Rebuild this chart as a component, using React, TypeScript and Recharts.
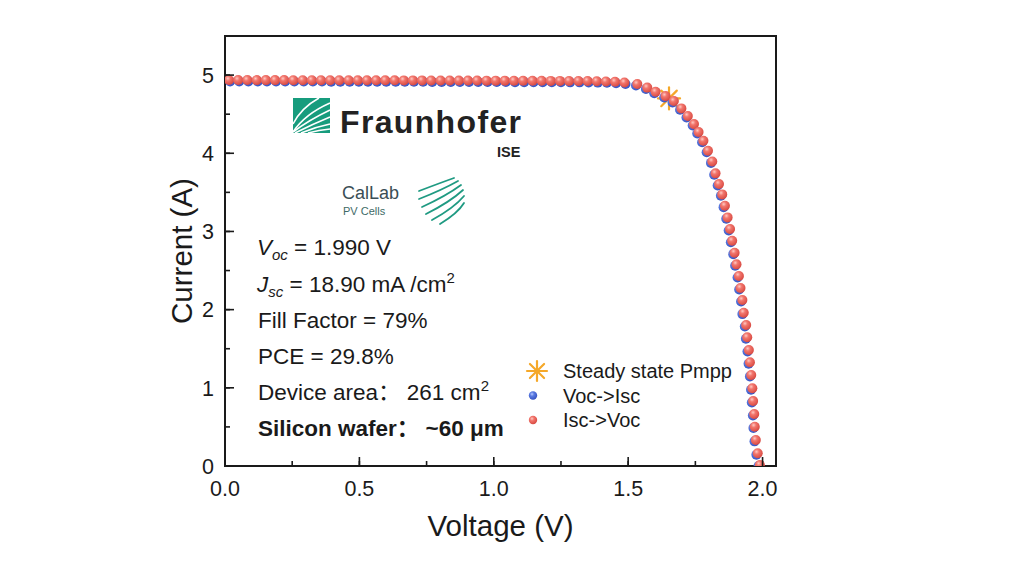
import React from 'react';
import { ScatterChart, Scatter, XAxis, YAxis, ReferenceArea, Legend } from 'recharts';

// ---- data ----
const iscToVocVoltage = [
  0.015, 0.049, 0.083, 0.118, 0.152, 0.186, 0.220, 0.254, 0.289, 0.323,
  0.357, 0.391, 0.425, 0.460, 0.494, 0.528, 0.562, 0.596, 0.631, 0.665,
  0.699, 0.733, 0.767, 0.802, 0.836, 0.870, 0.904, 0.938, 0.973, 1.007,
  1.041, 1.075, 1.109, 1.144, 1.178, 1.212, 1.246, 1.280, 1.315, 1.349,
  1.383, 1.417, 1.451, 1.486,
  1.534, 1.571, 1.602, 1.639, 1.670, 1.698, 1.722, 1.745, 1.762, 1.780,
  1.797, 1.813, 1.825, 1.838, 1.850, 1.860, 1.870, 1.879, 1.887, 1.896,
  1.903, 1.912, 1.918, 1.925, 1.930, 1.939, 1.943, 1.949, 1.953, 1.958,
  1.962, 1.965, 1.969, 1.971, 1.975, 1.982, 1.990,
];
const iscToVocCurrent = [
  4.937, 4.937, 4.937, 4.936, 4.936, 4.936, 4.936, 4.935, 4.935, 4.935,
  4.935, 4.934, 4.934, 4.934, 4.934, 4.933, 4.933, 4.933, 4.933, 4.932,
  4.932, 4.932, 4.931, 4.931, 4.931, 4.930, 4.930, 4.930, 4.929, 4.929,
  4.929, 4.928, 4.928, 4.927, 4.927, 4.926, 4.926, 4.925, 4.925, 4.924,
  4.922, 4.919, 4.914, 4.905,
  4.885, 4.840, 4.786, 4.731, 4.668, 4.574, 4.476, 4.373, 4.271, 4.160,
  4.032, 3.895, 3.743, 3.606, 3.474, 3.329, 3.180, 3.031, 2.881, 2.728,
  2.579, 2.430, 2.276, 2.123, 1.961, 1.803, 1.646, 1.483, 1.326, 1.164,
  0.994, 0.831, 0.665, 0.503, 0.333, 0.162, 0.013,
];
const vocToIscVoltage = [
  0.019, 0.053, 0.087, 0.122, 0.156, 0.190, 0.224, 0.258, 0.293, 0.327,
  0.361, 0.395, 0.429, 0.464, 0.498, 0.532, 0.566, 0.600, 0.635, 0.669,
  0.703, 0.737, 0.771, 0.806, 0.840, 0.874, 0.908, 0.942, 0.977, 1.011,
  1.045, 1.079, 1.113, 1.148, 1.182, 1.216, 1.250, 1.284, 1.319, 1.353,
  1.387, 1.421, 1.455, 1.490,
  1.529, 1.566, 1.597, 1.634, 1.665, 1.693, 1.717, 1.740, 1.757, 1.775,
  1.792, 1.808, 1.820, 1.833, 1.845, 1.855, 1.865, 1.874, 1.882, 1.891,
  1.898, 1.907, 1.913, 1.920, 1.925, 1.934, 1.938, 1.944, 1.948, 1.953,
  1.957, 1.960, 1.964, 1.966, 1.970, 1.977, 1.985,
];
const vocToIscCurrent = [
  4.919, 4.919, 4.919, 4.918, 4.918, 4.918, 4.918, 4.917, 4.917, 4.917,
  4.917, 4.916, 4.916, 4.916, 4.916, 4.915, 4.915, 4.915, 4.915, 4.914,
  4.914, 4.914, 4.913, 4.913, 4.913, 4.912, 4.912, 4.912, 4.911, 4.911,
  4.911, 4.910, 4.910, 4.909, 4.909, 4.908, 4.908, 4.907, 4.907, 4.906,
  4.904, 4.901, 4.896, 4.887,
  4.867, 4.822, 4.768, 4.713, 4.650, 4.556, 4.458, 4.355, 4.253, 4.142,
  4.014, 3.877, 3.725, 3.588, 3.456, 3.311, 3.162, 3.013, 2.863, 2.710,
  2.561, 2.412, 2.258, 2.105, 1.943, 1.785, 1.628, 1.465, 1.308, 1.146,
  0.976, 0.813, 0.647, 0.485, 0.315, 0.144, 0.000,
];
const pmppVoltage = [1.652];
const pmppCurrent = [4.702];

const seriesNames = ['Steady state Pmpp', 'Voc->Isc', 'Isc->Voc'];
const xTicks = [0, 0.25, 0.5, 0.75, 1.0, 1.25, 1.5, 1.75, 2.0];
const xTickLabels = ['0.0', '', '0.5', '', '1.0', '', '1.5', '', '2.0'];
const yTicks = [0, 0.5, 1, 1.5, 2, 2.5, 3, 3.5, 4, 4.5, 5];
const yTickLabels = ['0', '', '1', '', '2', '', '3', '', '4', '', '5'];
const xDomain = [0, 2.05];
const yDomain = [0, 5.5];

const redData = iscToVocVoltage.map((v, k) => ({ v, i: iscToVocCurrent[k] }));
const blueData = vocToIscVoltage.map((v, k) => ({ v, i: vocToIscCurrent[k] }));
const pmppData = pmppVoltage.map((v, k) => ({ v, i: pmppCurrent[k] }));

const FONT = "'Liberation Sans', Arial, sans-serif";
const CJK = "'Noto Sans CJK SC', 'Liberation Sans', sans-serif";
const INK = '#1a1a1a';
const STAR = '#f5a829';

const makeBall = (grad: string, r: number) => (props: any) => {
  const { cx, cy } = props;
  if (cx == null || cy == null) return null;
  return <circle cx={cx} cy={cy} r={r} fill={`url(#${grad})`} />;
};
const RedBall = makeBall('gRed', 5);
const BlueBall = makeBall('gBlue', 5);

const starLines = (cx: number, cy: number, s: number) => {
  const d = s * 0.7071;
  return (
    <g stroke={STAR} strokeWidth={2.2} strokeLinecap="round">
      <line x1={cx - s} y1={cy} x2={cx + s} y2={cy} />
      <line x1={cx} y1={cy - s} x2={cx} y2={cy + s} />
      <line x1={cx - d} y1={cy - d} x2={cx + d} y2={cy + d} />
      <line x1={cx - d} y1={cy + d} x2={cx + d} y2={cy - d} />
    </g>
  );
};
const StarShape = (props: any) => {
  const { cx, cy } = props;
  if (cx == null || cy == null) return null;
  return starLines(cx, cy, 11);
};

const XTick = (props: any) => {
  const { x, y, index } = props;
  const base = y - 15;
  const major = index % 2 === 0;
  return (
    <g>
      {major ? <line x1={x} y1={base} x2={x} y2={base - 9} stroke={INK} strokeWidth={1.6} /> : null}
      <text x={x} y={y} dy="0.71em" textAnchor="middle" fontSize={21.5} fontFamily={FONT} fill={INK}>
        {xTickLabels[index]}
      </text>
    </g>
  );
};
const YTick = (props: any) => {
  const { x, y, index } = props;
  const base = x + 11;
  const major = index % 2 === 0;
  return (
    <g>
      {major ? <line x1={base} y1={y} x2={base + 9} y2={y} stroke={INK} strokeWidth={1.6} /> : null}
      <text x={x} y={y} dy="0.36em" textAnchor="end" fontSize={21.5} fontFamily={FONT} fill={INK}>
        {yTickLabels[index]}
      </text>
    </g>
  );
};

const LegendContent = (props: any) => {
  const payload = [...(props.payload || [])].sort(
    (a: any, b: any) => seriesNames.indexOf(a.value) - seriesNames.indexOf(b.value)
  );
  return (
    <svg width={240} height={82}>
      {payload.map((entry: any, k: number) => {
        const cy = 16 + k * 24.5;
        const which = seriesNames.indexOf(entry.value);
        let icon;
        if (which === 0) icon = starLines(17, cy, 10);
        else icon = <circle cx={13} cy={cy} r={4.2} fill={which === 1 ? 'url(#gBlue)' : 'url(#gRed)'} />;
        return (
          <g key={k}>
            {icon}
            <text x={43} y={cy} dy="0.36em" fontSize={20} fontFamily={FONT} fill={INK}>
              {entry.value}
            </text>
          </g>
        );
      })}
    </svg>
  );
};

const XLabel = (props: any) => {
  const vb = props.viewBox || {};
  return (
    <text x={vb.x + vb.width / 2} y={vb.y + 70} textAnchor="middle" fontSize={29.5} fontFamily={FONT} fill={INK}>
      Voltage (V)
    </text>
  );
};
const YLabel = (props: any) => {
  const vb = props.viewBox || {};
  const cx = 181;
  const cy = vb.y + vb.height / 2;
  return (
    <text x={cx} y={cy} dy="0.36em" textAnchor="middle" fontSize={29.5} fontFamily={FONT} fill={INK}
      transform={`rotate(-90 ${cx} ${cy})`}>
      Current (A)
    </text>
  );
};

const Overlay = () => {
  const tx = 258;
  const fs = 22.5;
  const sub = 15;
  return (
    <svg width={1024} height={576} style={{ position: 'absolute', left: 0, top: 0, pointerEvents: 'none' }}>
      {/* Fraunhofer logo */}
      <g transform="translate(293,98)">
        <rect x={0} y={0} width={37} height={35} fill="#179c7d" />
        <g stroke="#ffffff" strokeWidth={1.6} fill="none">
          <path d="M0,34 Q12,16 37,5" />
          <path d="M0,34 Q16,22 37,12" />
          <path d="M2,35 Q20,26 37,19" />
          <path d="M8,35 Q22,29 37,26" />
          <path d="M15,35 Q26,32 37,31" />
          <path d="M0,26 Q8,10 26,0" />
        </g>
      </g>
      <text x={340} y={133} fontSize={32} fontWeight={700} fontFamily={FONT} fill="#222" textLength={181}>
        Fraunhofer
      </text>
      <text x={497} y={157} fontSize={14.5} fontWeight={700} fontFamily={FONT} fill="#222">
        ISE
      </text>
      {/* CalLab logo */}
      <text x={342} y={199} fontSize={18} fontFamily={FONT} fill="#3a4e55">
        CalLab
      </text>
      <text x={343} y={215} fontSize={11} fontFamily={FONT} fill="#3e6a66">
        PV Cells
      </text>
      <g stroke="#1f9a82" strokeWidth={1.8} fill="none" strokeLinecap="round">
        <path d="M419,191 Q440,183 454,178" />
        <path d="M419,199 Q442,190 458,181" />
        <path d="M422,207 Q446,196 461,185" />
        <path d="M426,214 Q450,202 463,190" />
        <path d="M432,220 Q454,208 464,196" />
        <path d="M440,224 Q458,213 464,203" />
      </g>
      {/* annotations */}
      <g fontFamily={FONT} fontSize={fs} fill={INK}>
        <text x={tx - 1} y={255}>
          <tspan fontStyle="italic">V</tspan>
          <tspan fontStyle="italic" fontSize={sub} dy={5}>oc</tspan>
          <tspan dy={-5}> = 1.990 V</tspan>
        </text>
        <text x={tx - 1} y={291.5}>
          <tspan fontStyle="italic">J</tspan>
          <tspan fontStyle="italic" fontSize={sub} dy={5}>sc</tspan>
          <tspan dy={-5}> = 18.90 mA /cm</tspan>
          <tspan fontSize={sub} dy={-9}>2</tspan>
        </text>
        <text x={tx} y={327.5}>Fill Factor = 79%</text>
        <text x={tx} y={363.5}>PCE = 29.8%</text>
        <text x={tx} y={399.5}>
          <tspan>Device area</tspan>
          <tspan fontFamily={CJK}>：</tspan>
          <tspan> 261 cm</tspan>
          <tspan fontSize={sub} dy={-9}>2</tspan>
        </text>
        <text x={tx} y={435.5} fontWeight={700}>
          <tspan>Silicon wafer</tspan>
          <tspan fontFamily={CJK}>：</tspan>
          <tspan> ~60 μm</tspan>
        </text>
      </g>
    </svg>
  );
};

export default function App() {
  return (
    <div style={{ position: 'absolute', left: 0, top: 0, width: 1024, height: 576, background: '#fff' }}>
      <svg width={0} height={0} style={{ position: 'absolute' }}>
        <defs>
          <radialGradient id="gRed" cx="0.38" cy="0.34" r="0.7">
            <stop offset="0" stopColor="#ffc9c2" />
            <stop offset="0.35" stopColor="#f2766d" />
            <stop offset="1" stopColor="#d6463e" />
          </radialGradient>
          <radialGradient id="gBlue" cx="0.38" cy="0.34" r="0.7">
            <stop offset="0" stopColor="#b8c8ff" />
            <stop offset="0.35" stopColor="#5a7be2" />
            <stop offset="1" stopColor="#3550bf" />
          </radialGradient>
        </defs>
      </svg>
      <ScatterChart width={1024} height={576} margin={{ top: 36, right: 248, bottom: 50, left: 165 }}>
        <XAxis type="number" dataKey="v" domain={xDomain} ticks={xTicks} allowDataOverflow
          height={60} tickSize={-5} tickMargin={20} tickLine={{ stroke: INK, strokeWidth: 1.6 }} tick={<XTick />}
          interval={0} axisLine={{ stroke: INK, strokeWidth: 2 }} label={<XLabel />} />
        <YAxis type="number" dataKey="i" domain={yDomain} ticks={yTicks} allowDataOverflow
          width={60} tickSize={-5} tickMargin={16} tickLine={{ stroke: INK, strokeWidth: 1.6 }} tick={<YTick />}
          interval={0} axisLine={{ stroke: INK, strokeWidth: 2 }} label={<YLabel />} />
        <ReferenceArea x1={xDomain[0]} x2={xDomain[1]} y1={yDomain[0]} y2={yDomain[1]}
          fill="none" fillOpacity={0} stroke={INK} strokeWidth={2} ifOverflow="visible" />
        <Scatter name={seriesNames[0]} data={pmppData} fill={STAR} shape={StarShape} isAnimationActive={false} />
        <Scatter name={seriesNames[1]} data={blueData} fill="#4f6fd8" shape={BlueBall} isAnimationActive={false} />
        <Scatter name={seriesNames[2]} data={redData} fill="#e8625c" shape={RedBall} isAnimationActive={false} />
        <Legend layout="horizontal" verticalAlign="middle" align="center" content={<LegendContent />}
          wrapperStyle={{ left: 520, top: 355, width: 240, height: 82 }} />
      </ScatterChart>
      <Overlay />
    </div>
  );
}
